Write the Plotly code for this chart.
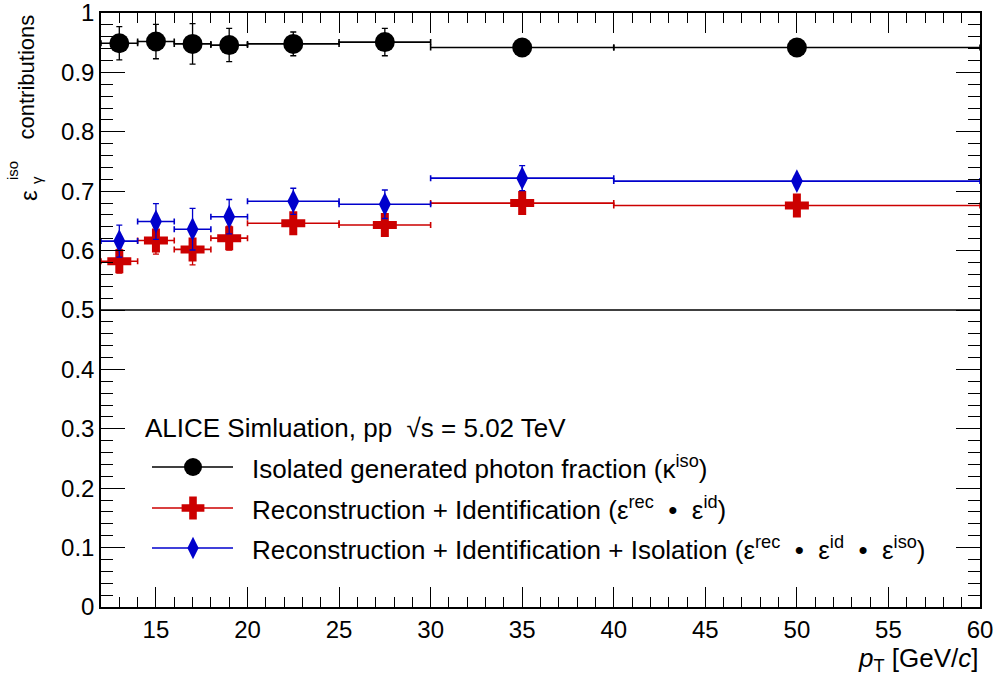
import plotly.graph_objects as go

# ---- data ----
pt_centers = [13, 15, 17, 19, 22.5, 27.5, 35, 50]
pt_halfwidth = [1, 1, 1, 1, 2.5, 2.5, 5, 10]

kappa_iso = [0.949, 0.952, 0.948, 0.946, 0.948, 0.951, 0.942, 0.942]
kappa_iso_err = [0.028, 0.029, 0.034, 0.028, 0.020, 0.023, 0.010, 0.005]

eff_rec_id = [0.582, 0.617, 0.602, 0.621, 0.646, 0.643, 0.680, 0.676]
eff_rec_id_err = [0.020, 0.023, 0.026, 0.020, 0.015, 0.015, 0.010, 0.008]

eff_rec_id_iso = [0.616, 0.649, 0.636, 0.657, 0.683, 0.678, 0.722, 0.717]
eff_rec_id_iso_err = [0.027, 0.030, 0.035, 0.029, 0.022, 0.024, 0.021, 0.008]

x_ticks = [15, 20, 25, 30, 35, 40, 45, 50, 55, 60]
y_ticks = [0, 0.1, 0.2, 0.3, 0.4, 0.5, 0.6, 0.7, 0.8, 0.9, 1]
y_tick_labels = ["0", "0.1", "0.2", "0.3", "0.4", "0.5", "0.6", "0.7", "0.8", "0.9", "1"]

DOT = "  •  "
series_names = [
    "Isolated generated photon fraction (κ<sup>iso</sup>)",
    "Reconstruction + Identification (ε<sup>rec</sup>" + DOT + "ε<sup>id</sup>)",
    "Reconstruction + Identification + Isolation (ε<sup>rec</sup>" + DOT + "ε<sup>id</sup>"
    + DOT + "ε<sup>iso</sup>)",
]
header_text = "ALICE Simluation, pp  √s = 5.02 TeV"

BLACK = "#000000"
RED = "#cc0000"
BLUE = "#0000cc"
FONT = "Liberation Sans, Arial, sans-serif"

# plot-area pixel geometry (layout only)
L, R, T, B = 101, 980, 13, 607
W, H = 999, 680

def px_x(px):
    return (px - L) / (R - L)

def px_y(py):
    return (B - py) / (B - T)

fig = go.Figure()

def add_series(y, yerr, color, symbol, size):
    fig.add_trace(go.Scatter(
        x=pt_centers, y=y, mode="markers",
        marker=dict(symbol=symbol, size=size, color=color, opacity=1, line=dict(width=0)),
        error_x=dict(type="data", array=pt_halfwidth, symmetric=True, color=color,
                     thickness=1.6, width=3),
        error_y=dict(type="data", array=yerr, symmetric=True, color=color,
                     thickness=1.3, width=3),
        showlegend=False, hoverinfo="x+y",
    ))

add_series(kappa_iso, kappa_iso_err, BLACK, "circle", 20)
add_series(eff_rec_id, eff_rec_id_err, RED, "cross", 20)
add_series(eff_rec_id_iso, eff_rec_id_iso_err, BLUE, "diamond-tall", 17)

# horizontal reference line at 0.5
fig.add_shape(type="line", xref="paper", yref="y", x0=0, x1=1, y0=0.5, y1=0.5,
              line=dict(color="black", width=1.3))

# ---- manual legend (overlay axes in pixel units) ----
leg_rows = [467, 508, 548]
leg_styles = [(BLACK, "circle", 18), (RED, "cross", 19), (BLUE, "diamond-tall", 16)]
for row, (col, sym, sz), name in zip(leg_rows, leg_styles, series_names):
    fig.add_trace(go.Scatter(
        x=[152, 233], y=[row, row], mode="lines",
        line=dict(color=col, width=1.3),
        xaxis="x2", yaxis="y2", showlegend=False, hoverinfo="skip",
    ))
    fig.add_trace(go.Scatter(
        x=[193], y=[row], mode="markers",
        marker=dict(symbol=sym, size=sz, color=col, opacity=1, line=dict(width=0)),
        xaxis="x2", yaxis="y2", showlegend=False, hoverinfo="skip",
    ))
    fig.add_annotation(x=px_x(250), y=px_y(row), xref="paper", yref="paper", text=name,
                       showarrow=False, xanchor="left", yanchor="middle",
                       font=dict(size=26, color="black", family=FONT))

fig.add_annotation(x=px_x(143), y=px_y(428), xref="paper", yref="paper", text=header_text,
                   showarrow=False, xanchor="left", yanchor="middle",
                   font=dict(size=26, color="black", family=FONT))

# y-axis title, built from pieces so that the super/subscript stack like the reference
def ytitle_piece(text, px, py, size, yanchor="middle"):
    fig.add_annotation(x=px_x(px), y=px_y(py), xref="paper", yref="paper",
                       text=text, textangle=-90, showarrow=False,
                       xanchor="center", yanchor=yanchor,
                       font=dict(size=size, color="black", family=FONT))

ytitle_piece("contributions", 26, 13, 22, yanchor="top")
ytitle_piece("ε", 28, 196, 24)
ytitle_piece("iso", 12, 171, 15)
ytitle_piece("γ", 36, 180, 15)

fig.add_annotation(x=px_x(981), y=px_y(659), xref="paper", yref="paper",
                   text="<i>p</i><sub>T</sub> [GeV/<i>c</i>]",
                   showarrow=False, xanchor="right", yanchor="middle",
                   font=dict(size=26, color="black", family=FONT))

axis_common = dict(showline=True, linecolor="black", linewidth=1.5, mirror="allticks",
                   ticks="inside", tickcolor="black", tickwidth=1.3, showgrid=False,
                   zeroline=False, automargin=False, ticklabeloverflow="allow",
                   tickfont=dict(size=24, color="black", family=FONT))

fig.update_layout(
    width=W, height=H,
    margin=dict(l=L, r=W - R, t=T, b=H - B, autoexpand=False),
    paper_bgcolor="white", plot_bgcolor="white",
    xaxis=dict(range=[12, 60], tickvals=x_ticks, ticklen=20,
               minor=dict(dtick=1, tick0=0, ticklen=10, ticks="inside", tickcolor="black",
                          tickwidth=1.3),
               **axis_common),
    yaxis=dict(range=[0, 1], tickvals=y_ticks, ticktext=y_tick_labels, ticklen=24,
               minor=dict(dtick=0.02, tick0=0, ticklen=12, ticks="inside", tickcolor="black",
                          tickwidth=1.3),
               **axis_common),
    xaxis2=dict(range=[L, R], overlaying="x", visible=False, fixedrange=True),
    yaxis2=dict(range=[B, T], overlaying="y", visible=False, fixedrange=True),
    showlegend=False,
)

fig.write_html("out.html", config={"displayModeBar": False},
               post_script="document.body.style.margin='0';")
